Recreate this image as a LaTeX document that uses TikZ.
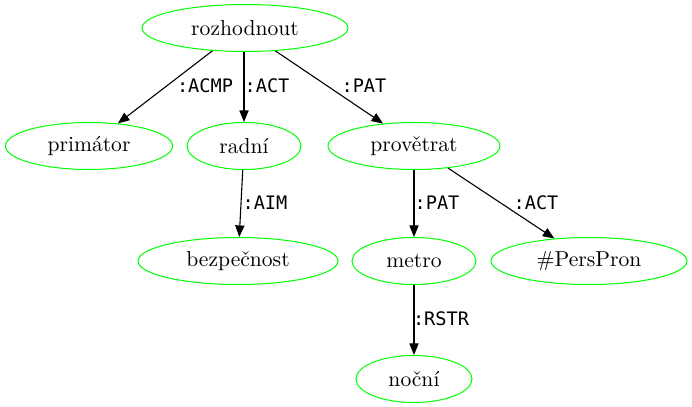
\documentclass[tikz,border=0pt]{standalone}
\usepackage{fontspec}
\newfontfamily\relfont{DejaVu Sans Mono}
\usetikzlibrary{shapes.geometric,arrows.meta}
\begin{document}
\begin{tikzpicture}[
  x=0.5pt, y=-0.5pt,
  word/.style={ellipse, draw=green, line width=0.5pt, inner sep=0pt,
    minimum height=23.5pt, font=\fontsize{10.8}{13}\selectfont},
  rel/.style={inner sep=0pt, font=\relfont\fontsize{9.3}{11}\selectfont},
  dep/.style={draw, line width=0.55pt, -{Triangle[length=5.8pt,width=4.6pt]}}
]
\useasboundingbox (0,0) rectangle (692,407);
\node[word, minimum width=103pt] (rozhodnout) at (245,28) {rozhodnout};
\node[word, minimum width=83.5pt] (primator) at (89,146) {primátor};
\node[word, minimum width=57pt] (radni) at (244,146) {radní};
\node[word, minimum width=86pt] (provetrat) at (414,146) {provětrat};
\node[word, minimum width=100pt] (bezpecnost) at (238,261) {bezpečnost};
\node[word, minimum width=62pt] (metro) at (414,261) {metro};
\node[word, minimum width=98pt] (perspron) at (589,261) {\#PersPron};
\node[word, minimum width=58pt] (nocni) at (414,379) {noční};
% edges
\draw[dep] (rozhodnout.215) -- (primator.38);
\draw[dep] (rozhodnout.south -| radni) -- (radni);
\draw[dep] (rozhodnout.323) -- (provetrat.144);
\draw[dep] (radni) -- (bezpecnost);
\draw[dep] (provetrat) -- (metro);
\draw[dep] (provetrat.327) -- (perspron.147);
\draw[dep] (metro) -- (nocni);
% edge labels
\node[rel] (l1) at (205,86) {:ACMP};
\node[rel] (l2) at (267,86) {:ACT};
\node[rel] (l3) at (364,86) {:PAT};
\node[rel] (l4) at (265,203) {:AIM};
\node[rel] (l5) at (437,203) {:PAT};
\node[rel] (l6) at (536,203) {:ACT};
\node[rel] (l7) at (441,319) {:RSTR};
\end{tikzpicture}
\end{document}
